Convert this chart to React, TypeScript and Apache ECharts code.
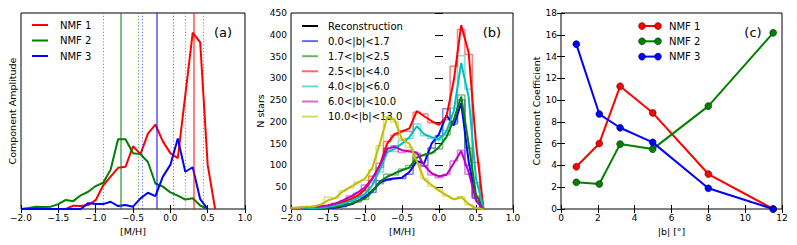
import React, { useEffect, useRef } from "react";
import * as echarts from "echarts";

// [M/H] bin centres
const mh = [-2.0, -1.9, -1.8, -1.7, -1.6, -1.5, -1.4, -1.3, -1.2, -1.1, -1.0, -0.9, -0.8, -0.7, -0.6, -0.5, -0.4, -0.3, -0.2, -0.1, 0.0, 0.1, 0.2, 0.3, 0.4, 0.5, 0.6];

// Panel (a): NMF component amplitudes
const nmf1 = [0, 0, 0, 0, 0, 0, 0, 0.017, 0.015, 0.02, 0.045, 0.12, 0.165, 0.21, 0.215, 0.32, 0.28, 0.385, 0.43, 0.345, 0.285, 0.26, 0.58, 0.9, 0.85, 0.225, 0];
const nmf2 = [0, 0.005, 0.012, 0.01, 0.012, 0.025, 0.046, 0.04, 0.07, 0.088, 0.117, 0.134, 0.2, 0.356, 0.356, 0.284, 0.28, 0.24, 0.13, 0.114, 0.085, 0.068, 0.048, 0.055, 0.018, 0, null];
const nmf3 = [0, 0, 0, 0, 0, 0, 0, 0, 0, 0.03, 0.025, 0.025, 0.037, 0.015, 0.02, 0.012, 0.054, 0.083, 0.066, 0.165, 0.225, 0.36, 0.19, 0.213, 0.05, 0, null];
const nmfPeak = [0.32, -0.67, -0.18];
const nmfLow = [0.2, -0.9, -0.38];
const nmfHigh = [0.44, -0.43, 0.04];

// Panel (b): histograms and reconstructions per |b| bin
const binLabels = ["0.0<|b|<1.7", "1.7<|b|<2.5", "2.5<|b|<4.0", "4.0<|b|<6.0", "6.0<|b|<10.0", "10.0<|b|<13.0"];
const histB0 = [0, 0, 1, 0, 1, 2, 4, 5, 12, 16, 30, 38, 65, 66, 70, 70, 80, 118, 100, 140, 168, 230, 195, 250, 100, 25, 0];
const histB1 = [0, 1, 1, 1, 2, 3, 4, 9, 11, 20, 22, 45, 58, 80, 78, 92, 100, 125, 122, 130, 138, 170, 200, 262, 140, 30, 0];
const histB2 = [1, 2, 3, 3, 5, 7, 12, 15, 25, 32, 42, 75, 95, 155, 170, 180, 178, 222, 218, 198, 195, 205, 328, 412, 355, 107, 3];
const histB3 = [0, 1, 2, 2, 4, 5, 7, 14, 17, 28, 33, 60, 85, 135, 132, 158, 162, 195, 168, 162, 158, 180, 232, 352, 275, 60, 0];
const histB4 = [2, 3, 4, 5, 7, 8, 13, 18, 30, 36, 55, 65, 105, 140, 145, 130, 135, 128, 98, 78, 72, 80, 110, 135, 80, 25, 0];
const histB5 = [3, 4, 5, 6, 9, 27, 25, 42, 48, 62, 66, 90, 145, 212, 200, 162, 142, 105, 70, 52, 45, 30, 24, 28, 10, 3, 0];
const recB0 = [0, 0, 0, 1, 1, 2, 3, 6, 10, 18, 28, 42, 60, 68, 70, 72, 85, 110, 105, 150, 172, 215, 192, 243, 110, 20, 0];
const recB1 = [0, 0, 1, 1, 2, 3, 5, 8, 12, 18, 24, 40, 63, 74, 82, 89, 95, 118, 125, 128, 142, 165, 205, 258, 150, 33, 0];
const recB2 = [1, 2, 2, 3, 5, 8, 12, 16, 22, 30, 45, 70, 100, 150, 172, 178, 185, 225, 213, 202, 193, 212, 295, 422, 360, 150, 3];
const recB3 = [1, 1, 2, 2, 3, 5, 8, 12, 18, 25, 35, 55, 90, 130, 138, 150, 165, 190, 172, 165, 160, 178, 225, 335, 258, 70, 3];
const recB4 = [2, 3, 4, 5, 6, 8, 12, 20, 28, 38, 50, 70, 100, 138, 143, 135, 132, 130, 100, 82, 75, 78, 105, 133, 85, 20, 0];
const recB5 = [3, 3, 5, 5, 10, 20, 25, 40, 50, 60, 70, 95, 150, 210, 205, 160, 150, 110, 68, 55, 42, 32, 22, 27, 12, 2, 0];

// Panel (c): coefficients vs |b|
const absB = [0.83, 2.08, 3.21, 4.98, 8.0, 11.52];
const coef1 = [3.88, 6.02, 11.28, 8.83, 3.21, 0.0];
const coef2 = [2.45, 2.29, 5.96, 5.5, 9.45, 16.18];
const coef3 = [15.14, 8.72, 7.46, 6.12, 1.9, 0.0];

const nmfNames = ["NMF 1", "NMF 2", "NMF 3"];
const nmfColors = ["#ff0000", "#008000", "#0000ff"];
const binColors = ["#0000ff", "#008000", "#ff0000", "#00bfbf", "#bf00bf", "#bfbf00"];

const FONT = "DejaVu Sans";
const minus = (s: string) => s.replace("-", "\u2212");

function pairs(xs: number[], ys: (number | null)[]) {
  return xs.map((x, i) => [x, ys[i]]);
}

function legendText(x: number, y: number, text: string) {
  return {
    type: "text", x, y, silent: true,
    style: { text, font: `10px ${FONT}`, fill: "#000", align: "left", verticalAlign: "middle" },
  };
}
function legendLine(x1: number, x2: number, y: number, stroke: string, lineWidth: number, opacity = 1) {
  return {
    type: "line", silent: true,
    shape: { x1, y1: y, x2, y2: y },
    style: { stroke, lineWidth, opacity },
  };
}

export default function App() {
  const ref = useRef<HTMLDivElement>(null);
  useEffect(() => {
    if (!ref.current) return;
    const chart = echarts.init(ref.current, undefined, { renderer: "svg" });

    const grids = [
      { left: 21, top: 13, width: 224, height: 196 },
      { left: 291, top: 13, width: 222, height: 196 },
      { left: 561, top: 13, width: 221, height: 196 },
    ].map((g) => ({ ...g, show: true, borderColor: "#000", borderWidth: 1, backgroundColor: "transparent" }));

    const tick = { show: true, inside: true, length: 4, lineStyle: { color: "#000", width: 1 } };
    const lbl = { fontSize: 9, fontFamily: FONT, color: "#000" };
    const nameStyle = { fontSize: 9.5, fontFamily: FONT, color: "#000" };

    const mhAxis = (gi: number, bottom: boolean) => ({
      type: "value",
      gridIndex: gi,
      position: bottom ? "bottom" : "top",
      min: -2,
      max: 1,
      interval: 0.5,
      axisLine: { show: false },
      splitLine: { show: false },
      axisTick: tick,
      axisLabel: bottom
        ? { ...lbl, margin: 4, formatter: (v: number) => minus(v.toFixed(1)) }
        : { show: false },
      name: bottom ? "[M/H]" : "",
      nameLocation: "middle",
      nameGap: 17,
      nameTextStyle: nameStyle,
    });

    const xAxis = [
      mhAxis(0, true),
      mhAxis(0, false),
      mhAxis(1, true),
      mhAxis(1, false),
      {
        type: "value", gridIndex: 2, position: "bottom", min: 0, max: 12, interval: 2,
        axisLine: { show: false }, splitLine: { show: false }, axisTick: tick,
        axisLabel: { ...lbl, margin: 4 },
        name: "|b| [\u00b0]", nameLocation: "middle", nameGap: 17, nameTextStyle: nameStyle,
      },
      {
        type: "value", gridIndex: 2, position: "top", min: 0, max: 12, interval: 2,
        axisLine: { show: false }, splitLine: { show: false }, axisTick: tick, axisLabel: { show: false },
      },
    ];

    const yAxis = [
      {
        type: "value", gridIndex: 0, position: "left", min: 0, max: 1,
        axisLine: { show: false }, splitLine: { show: false }, axisTick: { show: false }, axisLabel: { show: false },
        name: "Component Amplitude", nameLocation: "middle", nameGap: 4, nameTextStyle: nameStyle,
      },
      {
        type: "value", gridIndex: 0, position: "right", min: 0, max: 1,
        axisLine: { show: false }, splitLine: { show: false }, axisTick: { show: false }, axisLabel: { show: false },
      },
      {
        type: "value", gridIndex: 1, position: "left", min: 0, max: 450, interval: 50,
        axisLine: { show: false }, splitLine: { show: false }, axisTick: tick,
        axisLabel: { ...lbl, margin: 4 },
        name: "N stars", nameLocation: "middle", nameGap: 23, nameTextStyle: nameStyle,
      },
      {
        type: "value", gridIndex: 1, position: "right", min: 0, max: 450, interval: 50,
        axisLine: { show: false }, splitLine: { show: false }, axisTick: tick, axisLabel: { show: false },
      },
      {
        type: "value", gridIndex: 2, position: "left", min: 0, max: 18, interval: 2,
        axisLine: { show: false }, splitLine: { show: false }, axisTick: tick,
        axisLabel: { ...lbl, margin: 4 },
        name: "Component Coefficient", nameLocation: "middle", nameGap: 20, nameTextStyle: nameStyle,
      },
      {
        type: "value", gridIndex: 2, position: "right", min: 0, max: 18, interval: 2,
        axisLine: { show: false }, splitLine: { show: false }, axisTick: tick, axisLabel: { show: false },
      },
    ];

    const series: any[] = [];
    const nmfData = [nmf1, nmf2, nmf3];
    nmfData.forEach((d, i) => {
      const c = nmfColors[i];
      series.push({
        type: "line",
        name: nmfNames[i],
        xAxisIndex: 0,
        yAxisIndex: 0,
        data: pairs(mh, d),
        symbol: "none",
        connectNulls: false,
        lineStyle: { color: c, width: 2 },
        itemStyle: { color: c },
        z: 3,
        markLine: {
          silent: true,
          symbol: ["none", "none"],
          label: { show: false },
          emphasis: { disabled: true },
          data: [
            { xAxis: nmfPeak[i], lineStyle: { color: c, width: 2, opacity: 0.5, type: "solid" } },
            { xAxis: nmfLow[i], lineStyle: { color: c, width: 1, opacity: 0.6, type: [1.2, 2] } },
            { xAxis: nmfHigh[i], lineStyle: { color: c, width: 1, opacity: 0.6, type: [1.2, 2] } },
          ],
        },
      });
    });

    // Panel b
    const hists = [histB0, histB1, histB2, histB3, histB4, histB5];
    const recs = [recB0, recB1, recB2, recB3, recB4, recB5];
    hists.forEach((h, i) => {
      const c = binColors[i];
      series.push({
        type: "line", name: binLabels[i], xAxisIndex: 2, yAxisIndex: 2,
        data: pairs(mh, h), step: "middle", symbol: "none",
        lineStyle: { color: c, width: 1.5, opacity: 0.5 }, itemStyle: { color: c, opacity: 0.5 }, z: 2,
      });
    });
    recs.forEach((r, i) => {
      const c = binColors[i];
      series.push({
        type: "line", name: "Reconstruction " + binLabels[i], xAxisIndex: 2, yAxisIndex: 2,
        data: pairs(mh, r), symbol: "none",
        lineStyle: { color: c, width: 2 }, itemStyle: { color: c }, z: 3,
      });
    });

    // Panel c
    const coefs = [coef1, coef2, coef3];
    coefs.forEach((d, i) => {
      const c = nmfColors[i];
      series.push({
        type: "line", name: "Coefficient " + nmfNames[i], xAxisIndex: 4, yAxisIndex: 4,
        data: pairs(absB, d), symbol: "circle", symbolSize: 7, showSymbol: true,
        lineStyle: { color: c, width: 2 }, itemStyle: { color: c, borderColor: "#000", borderWidth: 0.4 },
        z: 3,
      });
    });

    // Legends drawn as graphic elements (matplotlib style)
    const graphic: any[] = [];
    nmfNames.forEach((n, i) => {
      const y = 25 + 15.5 * i;
      graphic.push(legendLine(32, 48, y, nmfColors[i], 2));
      graphic.push(legendText(60, y, n));
    });
    const bLabels = ["Reconstruction", ...binLabels];
    bLabels.forEach((n, i) => {
      const y = 26 + 15.1 * i;
      if (i === 0) graphic.push(legendLine(302, 318, y, "#000", 2));
      else graphic.push(legendLine(302, 318, y, binColors[i - 1], 2, 0.6));
      graphic.push(legendText(328, y, n));
    });
    nmfNames.forEach((n, i) => {
      const y = 26 + 15.3 * i;
      graphic.push(legendLine(642, 658, y, nmfColors[i], 2));
      [642, 658].forEach((cx) =>
        graphic.push({
          type: "circle", silent: true, shape: { cx, cy: y, r: 3.5 },
          style: { fill: nmfColors[i], stroke: "#000", lineWidth: 0.4 },
        })
      );
      graphic.push(legendText(669, y, n));
    });
    [["(a)", 223], ["(b)", 492], ["(c)", 753]].forEach(([t, x]) =>
      graphic.push({
        type: "text", x, y: 32, silent: true,
        style: { text: t, font: `13px ${FONT}`, fill: "#000", align: "center", verticalAlign: "middle" },
      })
    );

    const option: any = {
      animation: false,
      textStyle: { fontFamily: FONT },
      grid: grids,
      xAxis,
      yAxis,
      series,
      graphic,
    };

    chart.setOption(option);
    return () => chart.dispose();
  }, []);

  return <div ref={ref} style={{ position: "fixed", left: 0, top: 0, width: 797, height: 245, background: "#fff" }} />;
}
